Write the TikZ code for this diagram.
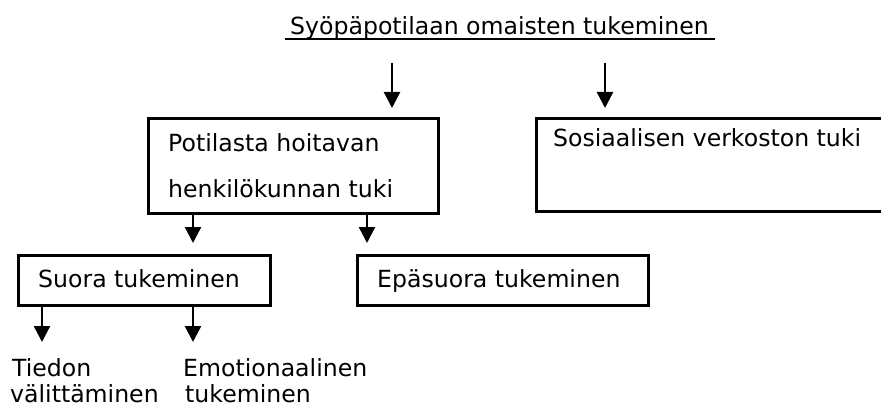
\documentclass[tikz,border=0pt]{standalone}
\usepackage{fontspec}
\setmainfont{DejaVu Sans}
\usetikzlibrary{arrows.meta}
\tikzset{
  box/.style={draw=black, line width=2.8pt, rectangle, inner sep=0pt, anchor=north west},
  lbl/.style={anchor=base west, inner sep=0pt, font=\fontsize{23.6}{26}\selectfont},
  arr/.style={line width=2.4pt, -{Triangle[width=16pt,length=16pt]}},
}
\begin{document}
\begin{tikzpicture}[x=1pt,y=-1pt]
\useasboundingbox (0,0) rectangle (881,409);
% title
\node[lbl] (title) at (290,35) {Syöpäpotilaan omaisten tukeminen};
\coordinate (ul1) at (285,39);
\coordinate (ul2) at (715,39);
\draw[line width=2.8pt] (ul1) -- (ul2);
% boxes
\node[box, minimum width=290pt, minimum height=95pt] (pot) at (147,117) {};
\node[box, minimum width=360pt, minimum height=93pt] (sos) at (535,117) {};
\node[box, minimum width=252pt, minimum height=50pt] (suo) at (17,254) {};
\node[box, minimum width=291pt, minimum height=50pt] (epa) at (356,254) {};
% texts
\node[lbl] (pot1) at (168,152) {Potilasta hoitavan};
\node[lbl] (pot2) at (168,197) {henkilökunnan tuki};
\node[lbl] (sost) at (553,147) {Sosiaalisen verkoston tuki};
\node[lbl] (suot) at (38,287) {Suora tukeminen};
\node[lbl] (epat) at (377,287) {Epäsuora tukeminen};
\node[lbl] (tie1) at (12,376) {Tiedon};
\node[lbl] (tie2) at (10,402) {välittäminen};
\node[lbl] (emo1) at (183,376) {Emotionaalinen};
\node[lbl] (emo2) at (185,402) {tukeminen};
% arrows from title
\coordinate (a1s) at (392,63); \coordinate (a1e) at (392,108);
\coordinate (a2s) at (605,63); \coordinate (a2e) at (605,108);
\draw[arr] (a1s) -- (a1e);
\draw[arr] (a2s) -- (a2e);
% arrows from Potilasta box
\coordinate (b1e) at (193,243); \coordinate (b2e) at (367,243);
\draw[arr] (pot.south west -| b1e) -- (b1e);
\draw[arr] (pot.south west -| b2e) -- (b2e);
% arrows from Suora box
\coordinate (c1e) at (42,342); \coordinate (c2e) at (193,342);
\draw[arr] (suo.south west -| c1e) -- (c1e);
\draw[arr] (suo.south west -| c2e) -- (c2e);
\end{tikzpicture}
\end{document}
